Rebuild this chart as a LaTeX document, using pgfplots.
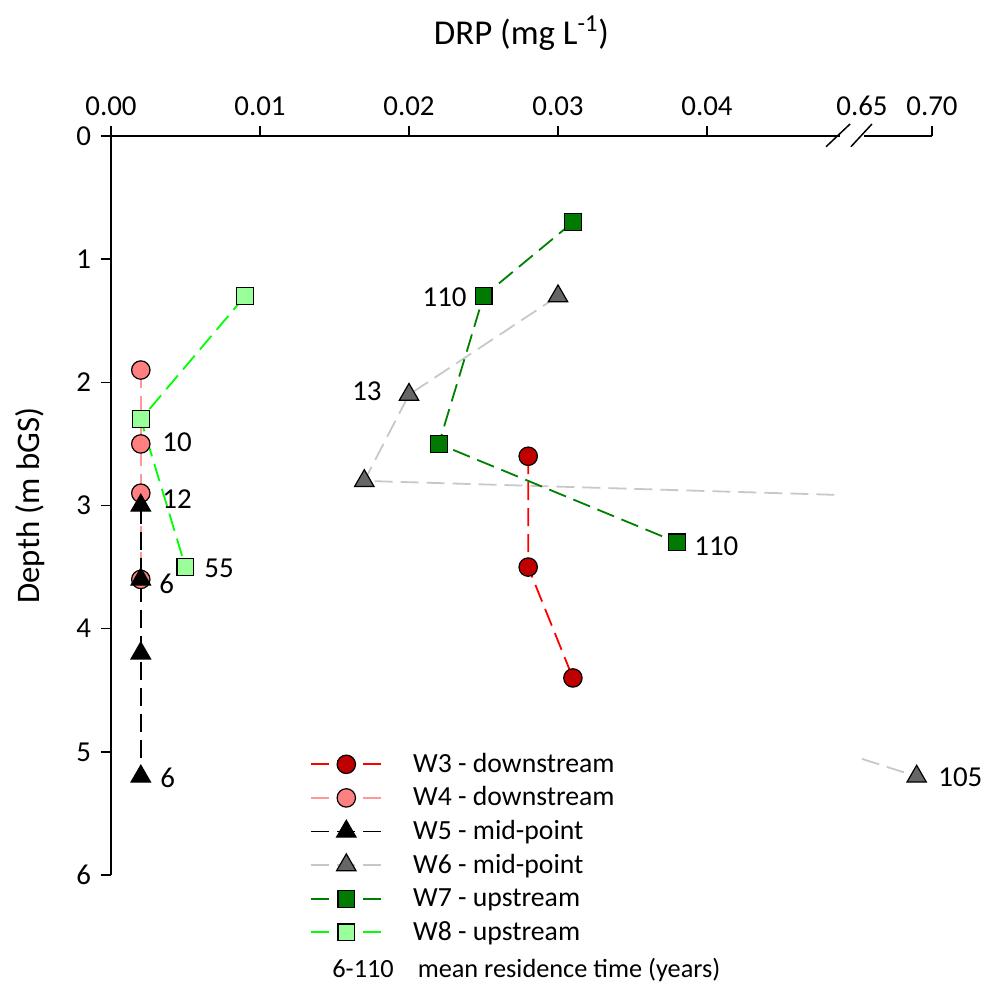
\documentclass[border=0pt]{standalone}
\usepackage{pgfplots}
\pgfplotsset{compat=1.18}
\usepackage{fontspec}
\setmainfont{Carlito}

\definecolor{w3line}{HTML}{FF0000}
\definecolor{w3fill}{HTML}{C00000}
\definecolor{w4line}{HTML}{FF9999}
\definecolor{w4fill}{HTML}{FF8080}
\definecolor{w6line}{HTML}{C8C8C8}
\definecolor{w6fill}{HTML}{666666}
\definecolor{w7line}{HTML}{008000}
\definecolor{w7fill}{HTML}{007A00}
\definecolor{w8line}{HTML}{00FF00}
\definecolor{w8fill}{HTML}{99FF99}

% x is plotted on a broken scale: 0-0.045 as is, 0.65-0.70 mapped to 0.0504-0.0551
\pgfplotsset{
  ser/.style={dash pattern=on 9bp off 4bp, line width=0.9bp},
  w3/.style={ser, color=w3line, mark=*, mark size=4.6bp, mark options={solid, draw=black, fill=w3fill, line width=0.6bp}},
  w4/.style={ser, color=w4line, mark=*, mark size=4.6bp, mark options={solid, draw=black, fill=w4fill, line width=0.6bp}},
  w5/.style={ser, color=black, mark=triangle*, mark size=5.6bp, mark options={solid, draw=black, fill=black, line width=0.6bp}},
  w6/.style={ser, color=w6line, mark=triangle*, mark size=5.6bp, mark options={solid, draw=black, fill=w6fill, line width=0.6bp}},
  w7/.style={ser, color=w7line, mark=square*, mark size=4.2bp, mark options={solid, draw=black, fill=w7fill, line width=0.6bp}},
  w8/.style={ser, color=w8line, mark=square*, mark size=4.2bp, mark options={solid, draw=black, fill=w8fill, line width=0.6bp}},
}
\tikzset{lbl/.style={inner sep=0pt}}

\begin{document}
\fontsize{14.5}{17}\selectfont
\begin{tikzpicture}
\useasboundingbox (-55.5bp,-54.5bp) rectangle (437.5bp,437.5bp);
\begin{axis}[
    at={(0,0)}, anchor=south west,
    width=410.5bp, height=369.5bp, scale only axis,
    xmin=0, xmax=0.0551, ymin=0, ymax=6, y dir=reverse,
    axis x line*=top, axis y line*=left,
    axis line style={line width=1bp},
    xtick={0,0.01,0.02,0.03,0.04,0.0504,0.0551},
    xticklabels={0.00,0.01,0.02,0.03,0.04,0.65,0.70},
    ytick={0,1,2,3,4,5,6},
    tick align=outside, major tick length=5bp,
    tick style={black, line width=0.75bp},
    /pgf/number format/assume math mode=true,
    scaled x ticks=false,
    clip=false,
    legend style={at={(axis description cs:0.2424,0.172)}, anchor=north west,
        draw=none, fill=none, inner sep=0pt, row sep=0.8bp,
        font=\fontsize{13.9}{16}\selectfont,
        nodes={text height=11bp, text depth=3bp, inner sep=1bp}},
    legend cell align=left,
    legend image code/.code={\draw[mark repeat=2,mark phase=2] plot coordinates {(0bp,0bp)(17.5bp,0bp)(35bp,0bp)};},
]
\addlegendimage{w3}\addlegendentry{\hspace{14.5bp}W3 - downstream}
\addlegendimage{w4}\addlegendentry{\hspace{14.5bp}W4 - downstream}
\addlegendimage{w5}\addlegendentry{\hspace{14.5bp}W5 - mid-point}
\addlegendimage{w6}\addlegendentry{\hspace{14.5bp}W6 - mid-point}
\addlegendimage{w7}\addlegendentry{\hspace{14.5bp}W7 - upstream}
\addlegendimage{w8}\addlegendentry{\hspace{14.5bp}W8 - upstream}

\addplot[w3, forget plot] coordinates {(0.028,2.6) (0.028,3.5) (0.031,4.4)};
\addplot[w4, forget plot] coordinates {(0.002,1.9) (0.002,2.5) (0.002,2.9) (0.002,3.6)};
\addplot[w5, forget plot] coordinates {(0.002,3.0) (0.002,3.6) (0.002,4.2) (0.002,5.2)};
% W6 line runs across the break, drawn in two pieces
\addplot[ser, color=w6line, no marks, forget plot, unbounded coords=jump] coordinates {
  (0.030,1.3) (0.020,2.1) (0.017,2.8) (0.04879,2.914) (nan,nan) (0.0504,5.057) (0.05407,5.2)};
\addplot[w6, only marks, forget plot] coordinates {(0.030,1.3) (0.020,2.1) (0.017,2.8) (0.05407,5.2)};
\addplot[w7, forget plot] coordinates {(0.031,0.7) (0.025,1.3) (0.022,2.5) (0.038,3.3)};
\addplot[w8, forget plot] coordinates {(0.009,1.3) (0.002,2.3) (0.005,3.5)};

% axis break
\fill[white] (axis cs:0.04893,-0.11) rectangle (axis cs:0.05054,0.03);
\draw[line width=0.75bp] (axis cs:0.04799,0.0869) -- (axis cs:0.0496,-0.0974);
\draw[line width=0.75bp] (axis cs:0.04966,0.0869) -- (axis cs:0.05107,-0.0974);

% mean residence times
\node[lbl, anchor=east] at (axis cs:0.02389,1.31) {110};
\node[lbl, anchor=east] at (axis cs:0.01819,2.07) {13};
\node[lbl, anchor=west] at (axis cs:0.00342,2.49) {10};
\node[lbl, anchor=west] at (axis cs:0.00342,2.95) {12};
\node[lbl, anchor=west] at (axis cs:0.00624,3.51) {55};
\node[lbl, anchor=west] at (axis cs:0.00322,3.64) {6};
\node[lbl, anchor=west] at (axis cs:0.03913,3.33) {110};
\node[lbl, anchor=west] at (axis cs:0.00329,5.21) {6};
\node[lbl, anchor=west] at (axis cs:0.05550,5.21) {105};

\node[lbl, anchor=west, font=\fontsize{13.2}{15}\selectfont] at (axis description cs:0.2692,-0.1286) {6-110\hspace{12bp}mean residence time (years)};
\node[font=\fontsize{17.5}{20}\selectfont] at (axis description cs:0.5,1) [yshift=51.5bp] {DRP (mg L\textsuperscript{-1})};
\node[rotate=90, font=\fontsize{16.5}{19}\selectfont] at (axis description cs:0,0.5) [yshift=40.5bp] {Depth (m bGS)};
\end{axis}
\end{tikzpicture}
\end{document}
